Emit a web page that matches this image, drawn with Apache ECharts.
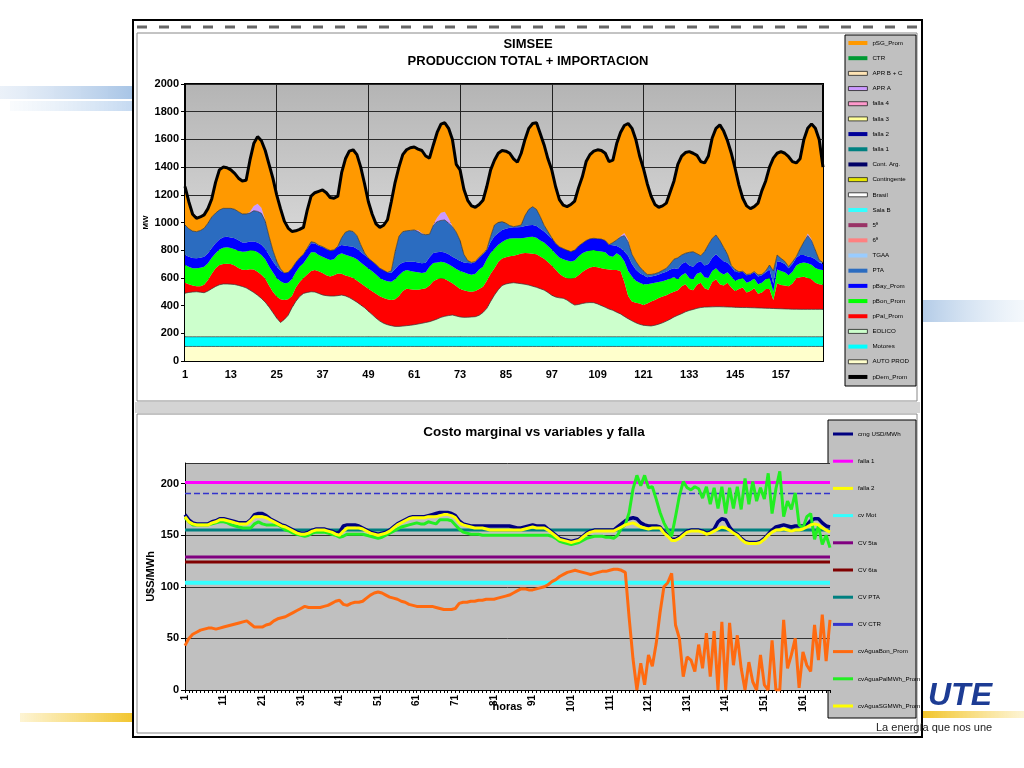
<!DOCTYPE html>
<html><head><meta charset="utf-8">
<script src="https://cdn.jsdelivr.net/npm/echarts/dist/echarts.min.js"></script>
<style>html,body{margin:0;padding:0;background:#fff}#c{width:1024px;height:768px}</style>
</head><body><div id="c"></div>
<script>
// ---------- categories (hours of the week) ----------
const hours = Array.from({length:168},(_,i)=>String(i+1));

// ---------- TOP CHART (MW) ----------
const autoProd = [
105,105,105,105,105,105,105,105,105,105,105,105,105,105,105,105,105,105,105,105,105,105,105,105,
105,105,105,105,105,105,105,105,105,105,105,105,105,105,105,105,105,105,105,105,105,105,105,105,
105,105,105,105,105,105,105,105,105,105,105,105,105,105,105,105,105,105,105,105,105,105,105,105,
105,105,105,105,105,105,105,105,105,105,105,105,105,105,105,105,105,105,105,105,105,105,105,105,
105,105,105,105,105,105,105,105,105,105,105,105,105,105,105,105,105,105,105,105,105,105,105,105,
105,105,105,105,105,105,105,105,105,105,105,105,105,105,105,105,105,105,105,105,105,105,105,105,
105,105,105,105,105,105,105,105,105,105,105,105,105,105,105,105,105,105,105,105,105,105,105,105];
const motores = [
70,70,70,70,70,70,70,70,70,70,70,70,70,70,70,70,70,70,70,70,70,70,70,70,
70,70,70,70,70,70,70,70,70,70,70,70,70,70,70,70,70,70,70,70,70,70,70,70,
70,70,70,70,70,70,70,70,70,70,70,70,70,70,70,70,70,70,70,70,70,70,70,70,
70,70,70,70,70,70,70,70,70,70,70,70,70,70,70,70,70,70,70,70,70,70,70,70,
70,70,70,70,70,70,70,70,70,70,70,70,70,70,70,70,70,70,70,70,70,70,70,70,
70,70,70,70,70,70,70,70,70,70,70,70,70,70,70,70,70,70,70,70,70,70,70,70,
70,70,70,70,70,70,70,70,70,70,70,70,70,70,70,70,70,70,70,70,70,70,70,70];
// cumulative levels read at the top edge of each band
const eolicoTop = [
490,495,498,500,497,493,505,522,538,550,556,556,
555,552,546,538,528,512,495,475,452,425,390,350,
310,278,300,330,385,430,465,488,495,500,498,488,
477,472,469,469,472,476,470,458,442,425,405,385,
360,335,310,288,272,262,255,250,250,252,255,258,
262,267,272,278,284,293,303,315,323,328,332,325,
318,315,316,318,320,330,350,380,430,476,515,545,
556,562,565,562,558,554,548,540,532,522,512,495,
475,462,456,453,440,420,404,408,415,420,422,421,
412,400,388,375,366,352,340,322,305,290,276,265,
258,255,253,258,266,276,288,302,318,330,342,355,
365,372,380,386,389,390,391,392,392,391,390,389,
388,387,386,386,385,384,383,382,381,380,379,378,
377,376,375,374,374,373,373,373,373,373,373,373];
const palTop = [
565,555,545,540,540,550,585,630,670,693,700,702,
700,690,672,658,657,662,660,645,622,595,545,500,
465,445,440,445,470,530,570,600,625,650,657,648,
635,620,610,620,632,630,618,610,600,582,562,542,
522,503,485,467,455,445,440,445,470,505,522,518,
514,515,520,525,545,575,590,597,592,578,562,542,
520,510,503,500,505,520,537,580,630,670,715,740,
750,756,760,768,776,779,778,775,770,755,738,715,
690,660,630,610,598,596,600,620,642,660,675,681,
676,670,665,660,657,657,650,570,470,430,420,415,
405,415,430,440,455,465,475,490,500,510,540,555,
520,510,550,565,525,515,570,590,555,545,565,530,
505,520,530,495,505,525,485,495,520,520,440,561,
549,545,540,560,597,605,609,600,590,565,555,550];
const bonTop = [
693,680,670,669,673,680,705,745,778,805,818,821,
815,806,796,789,790,800,798,785,765,735,685,640,
600,575,562,565,592,640,680,705,745,785,785,765,
752,740,730,735,765,778,768,758,750,735,712,690,
668,648,625,600,585,575,573,590,620,645,657,650,
645,640,635,640,680,708,712,717,712,698,682,665,
650,640,630,622,630,660,681,735,780,810,840,860,
875,884,886,886,886,890,895,897,890,870,855,830,
805,775,748,735,725,718,725,755,778,790,798,801,
795,790,785,760,753,778,760,720,650,610,580,565,
555,555,560,565,570,575,585,595,605,590,620,635,
600,590,630,640,605,600,650,670,640,625,640,610,
580,590,600,565,575,595,555,565,590,600,500,660,
650,640,620,645,690,705,712,705,695,672,660,657];
const bayTop = [
765,752,743,741,745,752,778,815,850,878,893,897,
892,886,872,855,856,862,862,855,840,810,765,720,
680,652,635,640,670,712,745,770,810,850,848,832,
823,808,795,800,825,838,832,828,825,810,787,765,
742,720,697,670,655,640,635,665,695,712,717,717,
717,712,706,710,750,780,785,789,784,770,753,738,
722,712,707,705,715,745,770,800,860,900,925,945,
955,962,965,966,968,975,980,982,975,955,935,910,
885,850,825,812,800,790,800,830,850,870,882,886,
883,880,870,840,835,830,815,790,760,700,660,635,
620,605,610,615,625,635,645,660,670,665,700,715,
690,680,710,720,690,700,745,770,745,720,710,680,
645,640,645,620,625,640,610,620,640,660,560,720,
715,700,670,700,745,765,765,755,750,735,712,700];
const ptaTop = [
982,955,938,934,942,958,995,1040,1068,1090,1102,1102,
1102,1095,1078,1062,1062,1068,1085,1080,1066,1010,900,800,
720,665,635,640,670,712,745,770,815,861,855,836,
826,811,798,803,828,890,930,941,935,905,840,780,
742,720,697,670,655,640,650,790,900,934,940,943,
946,935,917,912,915,980,1006,1015,1018,995,970,930,
870,770,725,712,718,750,775,805,900,982,1000,1006,
995,978,970,975,982,1050,1095,1114,1095,1042,980,935,
890,850,825,812,800,790,800,830,850,870,882,886,
883,880,870,840,855,874,895,905,860,770,720,680,
650,625,625,630,640,655,669,700,735,745,765,778,
785,789,775,760,790,840,885,910,870,820,770,690,
660,645,648,625,628,645,622,625,650,693,650,765,
741,720,681,715,753,810,861,905,870,800,730,710];
const aprA = [
0,0,0,0,0,0,0,0,0,0,0,0,
0,0,0,0,0,10,35,55,40,8,0,0,
0,0,0,0,0,0,0,0,0,0,0,0,
0,0,0,0,0,0,0,0,0,0,0,0,
0,0,0,0,0,0,0,0,0,0,0,0,
0,10,8,0,0,5,30,55,60,35,5,0,
0,0,0,0,0,0,0,0,0,0,0,0,
0,0,0,0,0,0,0,0,0,0,0,0,
0,0,0,0,0,0,0,0,0,0,0,0,
0,0,0,0,0,0,8,20,15,0,0,0,
0,0,0,0,0,0,0,0,0,0,0,0,
0,0,0,0,0,0,0,0,0,0,0,0,
0,0,0,0,0,0,0,0,0,0,0,0,
0,0,0,0,0,0,0,15,10,0,0,0];
const pDem = [
1260,1150,1060,1030,1040,1055,1100,1170,1290,1380,1400,1395,
1380,1355,1320,1300,1305,1450,1570,1620,1590,1520,1420,1320,
1200,1100,1010,960,935,940,950,965,1090,1190,1215,1225,
1235,1215,1180,1175,1190,1360,1460,1515,1525,1490,1400,1280,
1150,1060,990,965,980,1020,1150,1290,1400,1490,1525,1540,
1545,1530,1520,1480,1465,1560,1650,1710,1720,1680,1600,1420,
1380,1240,1160,1120,1110,1130,1160,1260,1380,1450,1500,1520,
1515,1500,1460,1435,1500,1600,1680,1715,1720,1640,1560,1460,
1380,1260,1165,1125,1115,1130,1155,1250,1330,1440,1490,1515,
1525,1520,1500,1440,1450,1570,1650,1700,1715,1680,1600,1480,
1390,1280,1190,1130,1110,1120,1140,1220,1300,1420,1480,1505,
1512,1500,1485,1440,1430,1480,1610,1680,1705,1660,1590,1500,
1390,1270,1175,1120,1100,1115,1140,1230,1300,1400,1465,1500,
1512,1500,1475,1440,1430,1460,1600,1680,1712,1680,1600,1400];

// ---------- BOTTOM CHART (U$S/MWh) ----------
const cmg = [
170,165,162,161,161,161,161,163,164,166,166,165,
164,163,162,162,162,165,170,171,171,169,166,164,
162,160,159,157,155,153,152,152,153,155,156,156,
156,155,154,152,153,159,160,160,160,159,157,155,
153,152,151,152,153,155,158,161,163,165,167,168,
168,168,168,169,170,171,172,172,172,171,169,164,
161,160,159,159,159,159,159,159,159,159,159,159,
159,158,157,157,158,159,160,159,159,159,156,153,
150,147,146,145,144,145,146,149,152,154,155,155,
155,155,155,155,158,161,164,166,167,166,162,160,
159,159,159,158,153,150,146,146,148,151,154,155,
155,155,154,152,153,156,163,166,165,158,153,151,
147,144,143,143,143,144,147,151,155,158,159,160,
159,158,159,159,159,160,164,166,166,162,159,158];
const cvAguaSG = [
168,163,161,160,160,160,160,162,163,165,165,164,
163,162,161,161,161,164,168,168,168,167,165,163,
161,159,158,156,154,152,151,151,152,154,155,155,
155,154,153,151,150,154,157,157,157,157,156,154,
152,151,150,151,152,154,157,160,162,164,166,167,
167,167,167,168,168,168,169,170,170,169,167,162,
160,159,158,157,157,157,156,155,155,155,155,155,
155,155,155,155,156,157,158,157,157,157,155,152,
149,146,145,144,143,144,145,148,151,153,154,154,
154,154,154,154,156,158,160,161,162,160,158,157,
156,157,157,157,152,149,145,145,147,150,153,154,
154,154,153,151,152,154,156,158,157,155,152,150,
146,143,142,142,142,143,146,150,153,155,155,156,
155,154,155,155,156,158,160,161,160,157,155,153];
const cvAguaPal = [
167,163,160,160,160,160,160,161,162,163,163,162,
160,159,158,157,157,157,161,163,161,160,160,160,
160,158,155,154,152,151,150,149,150,152,153,153,
153,152,151,150,148,149,151,151,151,151,151,150,
149,148,147,148,150,152,154,156,158,159,160,161,
162,161,161,163,162,161,165,165,165,164,160,156,
153,152,151,151,151,150,150,150,150,150,150,150,
150,150,150,150,150,150,150,150,150,150,150,149,
147,144,143,142,141,142,143,145,147,148,149,149,
149,148,148,147,150,157,160,172,195,208,198,208,
196,197,185,172,162,155,149,168,188,202,196,194,
197,195,186,197,180,196,176,197,171,196,176,197,
175,205,180,202,183,196,185,210,171,195,212,168,
183,175,191,160,157,168,171,146,159,141,150,138];
const cvAguaBon = [
43,50,54,56,58,59,60,60,59,60,61,62,
63,64,65,66,67,64,61,61,61,63,64,67,
69,70,71,73,75,77,79,81,80,80,80,80,
81,82,84,86,87,83,82,84,85,85,86,89,
92,94,95,94,92,90,89,88,86,85,83,82,
81,81,81,81,81,80,79,78,78,78,79,84,
85,85,86,86,87,87,88,88,88,89,90,91,
92,94,96,98,98,97,97,98,99,100,102,105,
107,110,112,114,115,116,115,114,113,112,113,114,
115,115,116,117,117,116,114,70,30,0,26,5,
34,23,45,75,100,104,113,63,50,13,32,29,
18,44,21,55,13,57,0,66,0,65,24,53,
21,0,27,8,0,34,5,0,48,0,0,68,
21,34,50,2,37,24,18,63,29,73,28,68];
// constant reference levels (U$S/MWh)
const falla1Level = 201, cvMotLevel = 104, cv5taLevel = 129, cv6taLevel = 124, cvPtaLevel = 155, cvCtrLevel = 190.5;

// ---------- legend lists ----------
const topLegend = ['pSG_Prom','CTR','APR B + C','APR A','falla 4','falla 3','falla 2','falla 1','Cont. Arg.','Contingente','Brasil','Sala B','5ª','6ª','TGAA','PTA','pBay_Prom','pBon_Prom','pPal_Prom','EOLICO','Motores','AUTO PROD','pDem_Prom'];
const botLegend = ['cmg USD/MWh','falla 1 ','falla 2 ','cv Mot','CV 5ta','CV 6ta','CV PTA','CV CTR','cvAguaBon_Prom','cvAguaPalMWh_Prom','cvAguaSGMWh_Prom'];

// ---------- build stacked values from the read levels ----------
const diff = (a,b)=>a.map((v,i)=>Math.max(0, v-b[i]));
const baseTop = autoProd.map((v,i)=>v+motores[i]);
const eolico = diff(eolicoTop, baseTop);
const pPal = diff(palTop, eolicoTop);
const pBon = diff(bonTop, palTop);
const pBay = diff(bayTop, bonTop);
const pta = diff(ptaTop, bayTop);
const aprTop = ptaTop.map((v,i)=>v+aprA[i]);
const pSG = diff(pDem, aprTop);

const FONT = 'Arial, "Liberation Sans", sans-serif';
function band(name, data, color, border){
  return {name, type:'line', stack:'prod', data, symbol:'none', color,
    xAxisIndex:0, yAxisIndex:0,
    lineStyle: border ? {width:0.7, color:'#333'} : {width:0},
    areaStyle:{color, opacity:1}, emphasis:{disabled:true}, z:2};
}
function ghost(name, color, idx){
  return {name, type:'line', data:[], color, xAxisIndex:idx, yAxisIndex:idx, symbol:'none'};
}
function level(name, v, color, width, type){
  return {name, type:'line', xAxisIndex:1, yAxisIndex:1, data:[[0,v],[167,v]], color,
    symbol:'none', lineStyle:{width, color, type:type||'solid'}, z:3};
}
function curve(name, data, color, width, z){
  return {name, type:'line', xAxisIndex:1, yAxisIndex:1, data, color, symbol:'none',
    lineStyle:{width, color}, z};
}
const bordered = {borderColor:'#222', borderWidth:0.8};
const topLegendData = topLegend.map(n => (['APR B + C','APR A','falla 4','falla 3','Contingente','Brasil','EOLICO','AUTO PROD'].includes(n)) ? {name:n, itemStyle:bordered} : {name:n});

const option = {
  animation:false,
  textStyle:{fontFamily:FONT},
  grid:[
    {left:185, top:84, width:638, height:277, show:true, borderColor:'#000', borderWidth:2,
     backgroundColor:{type:'linear',x:0,y:0,x2:0,y2:1,colorStops:[{offset:0,color:'#b4b4b4'},{offset:1,color:'#f4f4f4'}]}},
    {left:185, top:463, width:645, height:227, show:true, borderWidth:0, backgroundColor:'#c0c0c0'}
  ],
  xAxis:[
    {gridIndex:0, type:'category', data:hours, boundaryGap:false,
     axisLine:{lineStyle:{color:'#000', width:1}}, axisTick:{show:false},
     axisLabel:{interval:11, color:'#000', fontSize:11, fontWeight:'bold', margin:8},
     splitLine:{show:true, interval:23, lineStyle:{color:'#222', width:1}}},
    {gridIndex:1, type:'category', data:hours, boundaryGap:false,
     axisLine:{lineStyle:{color:'#000', width:1}},
     axisTick:{show:true, interval:0, length:3, lineStyle:{color:'#000'}},
     axisLabel:{interval:9, rotate:90, color:'#000', fontSize:10, fontWeight:'bold', margin:5},
     splitLine:{show:false},
     name:'horas', nameLocation:'middle', nameGap:11, nameMoveOverlap:false,
     nameTextStyle:{fontSize:11, fontWeight:'bold', color:'#000'}}
  ],
  yAxis:[
    {gridIndex:0, type:'value', min:0, max:2000, interval:200,
     axisLine:{show:true, lineStyle:{color:'#000'}}, axisTick:{show:true, length:4, lineStyle:{color:'#000'}},
     axisLabel:{color:'#000', fontSize:11, fontWeight:'bold', margin:6, formatter:v=>String(v)},
     splitLine:{show:true, lineStyle:{color:'#2a2a2a', width:1}},
     name:'MW', nameLocation:'middle', nameGap:35, nameRotate:90, nameMoveOverlap:false,
     nameTextStyle:{fontSize:8, fontWeight:'bold', color:'#000'}},
    {gridIndex:1, type:'value', min:0, max:220, interval:50,
     axisLine:{show:true, lineStyle:{color:'#000'}}, axisTick:{show:true, length:4, lineStyle:{color:'#000'}},
     axisLabel:{color:'#000', fontSize:11, fontWeight:'bold', margin:6, showMaxLabel:false, formatter:v=>String(v)},
     splitLine:{show:true, lineStyle:{color:'#333', width:1}},
     name:'U$S/MWh', nameLocation:'middle', nameGap:29, nameRotate:90, nameMoveOverlap:false,
     nameTextStyle:{fontSize:11, fontWeight:'bold', color:'#000'}}
  ],
  legend:[
    {data:topLegendData, orient:'vertical', left:848, top:39, padding:0, itemWidth:19, itemHeight:4, itemGap:7.18,
     icon:'rect', selectedMode:false, textStyle:{fontSize:6.2, lineHeight:8, color:'#000', fontFamily:FONT}},
    {data:botLegend, orient:'vertical', left:833, top:430, padding:0, itemWidth:20, itemHeight:3, itemGap:19.2,
     icon:'rect', selectedMode:false, textStyle:{fontSize:6.2, lineHeight:8, color:'#000', fontFamily:FONT}}
  ],
  graphic:[
    // slide decorations
    {type:'rect', z:-40, shape:{x:0,y:86,width:135,height:13}, style:{fill:{type:'linear',x:0,y:0,x2:1,y2:0,colorStops:[{offset:0,color:'rgba(190,210,235,0.3)'},{offset:1,color:'rgba(150,185,225,0.85)'}]}}},
    {type:'rect', z:-40, shape:{x:10,y:101,width:125,height:10}, style:{fill:{type:'linear',x:0,y:0,x2:1,y2:0,colorStops:[{offset:0,color:'rgba(200,220,240,0.1)'},{offset:1,color:'rgba(170,200,235,0.7)'}]}}},
    {type:'rect', z:-40, shape:{x:922,y:300,width:102,height:22}, style:{fill:{type:'linear',x:0,y:0,x2:1,y2:0,colorStops:[{offset:0,color:'rgba(160,190,225,0.8)'},{offset:1,color:'rgba(200,220,240,0.2)'}]}}},
    {type:'rect', z:-40, shape:{x:20,y:713,width:115,height:9}, style:{fill:{type:'linear',x:0,y:0,x2:1,y2:0,colorStops:[{offset:0,color:'rgba(245,200,40,0.2)'},{offset:1,color:'rgba(240,190,20,0.9)'}]}}},
    {type:'rect', z:-40, shape:{x:922,y:711,width:102,height:7}, style:{fill:{type:'linear',x:0,y:0,x2:1,y2:0,colorStops:[{offset:0,color:'rgba(240,190,20,0.9)'},{offset:1,color:'rgba(245,200,40,0.2)'}]}}},
    {type:'text', z:50, style:{text:'UTE', x:928, y:696, textVerticalAlign:'middle', font:'bold italic 32px ' + FONT, fill:'#1d3c94'}},
    {type:'text', z:50, style:{text:'La energía que nos une', x:876, y:728, textVerticalAlign:'middle', font:'11px ' + FONT, fill:'#222'}},
    // frame and panels
    {type:'rect', z:-30, shape:{x:133,y:20,width:789,height:717}, style:{fill:'#fff', stroke:'#000', lineWidth:2}},
    {type:'line', z:-29, shape:{x1:137,y1:27,x2:917,y2:27}, style:{stroke:'#666', lineWidth:3, lineDash:[10,12]}},
    {type:'rect', z:-29, shape:{x:135,y:402,width:785,height:11}, style:{fill:'#d4d4d4'}},
    {type:'rect', z:-28, shape:{x:137,y:33,width:780,height:368}, style:{fill:'#fff', stroke:'#888', lineWidth:1}},
    {type:'rect', z:-28, shape:{x:137,y:414,width:780,height:319}, style:{fill:'#fff', stroke:'#888', lineWidth:1}},
    {type:'rect', z:-27, shape:{x:845,y:35,width:71,height:351}, style:{fill:'#c0c0c0', stroke:'#000', lineWidth:1}},
    {type:'rect', z:-27, shape:{x:828,y:420,width:88,height:298}, style:{fill:'#c0c0c0', stroke:'#000', lineWidth:1}},
    // titles
    {type:'text', z:10, style:{text:'SIMSEE', x:528, y:44, textAlign:'center', textVerticalAlign:'middle', font:'bold 13px ' + FONT, fill:'#000'}},
    {type:'text', z:10, style:{text:'PRODUCCION TOTAL + IMPORTACION', x:528, y:61, textAlign:'center', textVerticalAlign:'middle', font:'bold 13px ' + FONT, fill:'#000'}},
    {type:'text', z:10, style:{text:'Costo marginal vs variables y falla', x:534, y:432, textAlign:'center', textVerticalAlign:'middle', font:'bold 13.5px ' + FONT, fill:'#000'}}
  ],
  series:[
    band('AUTO PROD', autoProd, '#ffffcc', true),
    band('Motores', motores, '#00ffff', true),
    band('EOLICO', eolico, '#ccffcc', true),
    band('pPal_Prom', pPal, '#ff0000', false),
    band('pBon_Prom', pBon, '#00ff00', false),
    band('pBay_Prom', pBay, '#0000ff', false),
    band('PTA', pta, '#2b6cc0', true),
    band('APR A', aprA, '#cc99ff', false),
    band('pSG_Prom', pSG, '#ff9900', false),
    ghost('CTR','#009933',0), ghost('APR B + C','#ffe4b5',0), ghost('falla 4','#ff99cc',0), ghost('falla 3','#ffff99',0),
    ghost('falla 2','#000099',0), ghost('falla 1','#008080',0), ghost('Cont. Arg.','#000066',0), ghost('Contingente','#e6e600',0),
    ghost('Brasil','#ffffff',0), ghost('Sala B','#33ffff',0), ghost('5ª','#993366',0), ghost('6ª','#ff8080',0), ghost('TGAA','#99ccff',0),
    {name:'pDem_Prom', type:'line', data:pDem, xAxisIndex:0, yAxisIndex:0, color:'#000', symbol:'none', lineStyle:{width:3, color:'#000'}, z:5},
    // bottom chart
    level('falla 1 ', falla1Level, '#ff00ff', 3),
    ghost('falla 2 ', '#ffff00', 1),
    level('cv Mot', cvMotLevel, '#33ffff', 4),
    level('CV 5ta', cv5taLevel, '#800080', 3),
    level('CV 6ta', cv6taLevel, '#800000', 3),
    level('CV PTA', cvPtaLevel, '#008080', 3),
    level('CV CTR', cvCtrLevel, '#3333cc', 1.5, 'dashed'),
    curve('cmg USD/MWh', cmg, '#000080', 3.5, 4),
    curve('cvAguaBon_Prom', cvAguaBon, '#ff6a10', 3, 5),
    curve('cvAguaPalMWh_Prom', cvAguaPal, '#22ee22', 3, 6),
    curve('cvAguaSGMWh_Prom', cvAguaSG, '#ffff00', 3, 7)
  ]
};
const chart = echarts.init(document.getElementById('c'), null, {renderer:'canvas'});
chart.setOption(option);
</script></body></html>
